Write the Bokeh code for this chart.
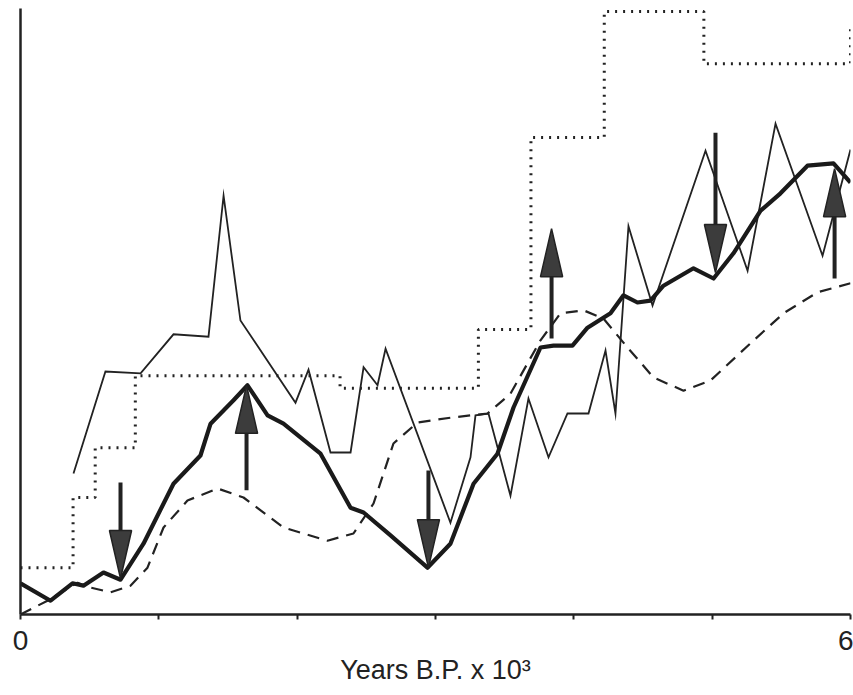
from bokeh.plotting import figure
from bokeh.models import Range1d, FixedTicker
from bokeh.embed import file_html
from bokeh.resources import INLINE

# ---------------- data (x: years B.P. x 10^3, y: arbitrary units) ----------------
step_x = [0.0, 0.38, 0.54, 0.83, 2.31, 3.31, 3.69, 4.22, 4.94, 6.0]
step_y = [7.8, 19.5, 27.8, 39.8, 37.7, 47.5, 79.5, 100.5, 91.8, 98.2]

thin_x = [0.383, 0.614, 0.868, 1.106, 1.359, 1.468, 1.590, 1.988, 2.082, 2.241,
          2.386, 2.480, 2.581, 2.639, 3.108, 3.253, 3.289, 3.383, 3.542, 3.672,
          3.817, 3.954, 4.106, 4.229, 4.301, 4.395, 4.569, 4.952, 5.256, 5.458,
          5.798, 6.0]
thin_y = [23.5, 40.5, 40.2, 46.7, 46.3, 69.8, 49.0, 35.3, 40.8, 27.0,
          27.0, 41.2, 38.2, 44.3, 15.3, 26.2, 33.2, 33.5, 19.8, 36.0,
          26.2, 33.5, 33.5, 44.0, 33.5, 64.7, 51.5, 77.3, 57.3, 81.8,
          59.8, 77.5]

thick_x = [0.0, 0.217, 0.376, 0.455, 0.600, 0.723, 0.889, 1.106, 1.301, 1.374,
           1.540, 1.641, 1.786, 1.901, 2.169, 2.386, 2.480, 2.675, 2.942, 3.108,
           3.275, 3.448, 3.564, 3.759, 3.853, 3.990, 4.099, 4.265, 4.359, 4.460,
           4.554, 4.648, 4.865, 5.010, 5.154, 5.350, 5.494, 5.689, 5.877, 6.0]
thick_y = [5.2, 2.3, 5.2, 4.8, 7.0, 5.8, 11.8, 21.8, 26.5, 31.8,
           35.7, 38.2, 33.2, 31.8, 26.8, 17.8, 17.0, 13.2, 7.8, 11.8,
           21.8, 26.8, 34.5, 44.5, 44.8, 44.8, 47.8, 50.2, 53.2, 52.0,
           52.3, 54.8, 57.7, 56.0, 60.2, 67.3, 70.2, 74.8, 75.2, 72.0]

dash_x = [0.0, 0.195, 0.412, 0.506, 0.651, 0.795, 0.918, 1.034, 1.207, 1.424,
          1.612, 1.901, 2.219, 2.407, 2.552, 2.696, 2.870, 3.108, 3.376, 3.542,
          3.759, 3.904, 4.070, 4.215, 4.388, 4.576, 4.793, 4.988, 5.277, 5.516,
          5.762, 6.0]
dash_y = [0.0, 2.3, 5.3, 4.5, 3.7, 4.8, 7.8, 14.5, 19.0, 21.0,
          19.5, 14.5, 12.3, 13.5, 18.5, 28.5, 32.0, 32.8, 33.5, 36.8,
          45.7, 50.2, 50.7, 49.3, 44.5, 39.5, 37.3, 39.0, 45.2, 50.2,
          53.7, 55.2]

# arrows: position, tail value, tip value
arrow_x = [0.723, 1.634, 2.949, 3.839, 5.024, 5.885]
arrow_tail = [22.0, 20.7, 24.0, 46.0, 80.3, 56.0]
arrow_tip = [6.0, 38.2, 7.8, 64.3, 57.0, 74.3]

tick_values = [0, 1, 2, 3, 4, 5, 6]
tick_labels = ["0", "", "", "", "", "", "6"]
x_title = "Years B.P. x 10\u00b3"

# ---------------- figure ----------------
INK = "#222222"
p = figure(width=853, height=695, x_range=Range1d(0, 6), y_range=Range1d(0, 101),
           output_backend="svg", toolbar_location=None,
           min_border_left=20, min_border_right=3, min_border_top=8, min_border_bottom=81)
p.background_fill_color = "white"
p.border_fill_color = "white"
p.outline_line_color = None
p.xgrid.grid_line_color = None
p.ygrid.grid_line_color = None

p.xaxis.ticker = FixedTicker(ticks=tick_values)
p.xaxis.major_label_overrides = {v: t for v, t in zip(tick_values, tick_labels)}
p.xaxis.minor_tick_line_color = None
p.xaxis.major_tick_in = 0
p.xaxis.major_tick_out = 5
p.xaxis.major_tick_line_width = 2
p.xaxis.major_tick_line_color = INK
p.xaxis.axis_line_width = 2.5
p.xaxis.axis_line_color = INK
p.xaxis.major_label_text_font = "Liberation Sans"
p.xaxis.major_label_text_font_size = "28px"
p.xaxis.major_label_text_color = INK
p.xaxis.major_label_standoff = 11
p.xaxis.axis_label = x_title
p.xaxis.axis_label_text_font = "Liberation Sans"
p.xaxis.axis_label_text_font_size = "27px"
p.xaxis.axis_label_text_font_style = "normal"
p.xaxis.axis_label_text_color = INK
p.xaxis.axis_label_standoff = 2

p.yaxis.ticker = FixedTicker(ticks=[])
p.yaxis.minor_tick_line_color = None
p.yaxis.major_tick_line_color = None
p.yaxis.major_label_text_font_size = "0px"
p.yaxis.axis_line_width = 2.5
p.yaxis.axis_line_color = INK

# series
p.step(step_x, step_y, mode="after", line_color=INK, line_width=3, line_dash="2 6")
p.line(dash_x, dash_y, line_color=INK, line_width=2.2, line_dash="12 8")
p.line(thin_x, thin_y, line_color=INK, line_width=1.8, line_join="miter")
p.line(thick_x, thick_y, line_color="#1a1a1a", line_width=4.2, line_join="round")

# arrows (shaft + filled head)
HEAD_LEN = 8.0     # in y units
HEAD_HALF_W = 0.08  # in x units
shaft_x0, shaft_y0, shaft_x1, shaft_y1 = [], [], [], []
head_xs, head_ys = [], []
for ax, t0, t1 in zip(arrow_x, arrow_tail, arrow_tip):
    d = 1.0 if t1 > t0 else -1.0
    base = t1 - d * HEAD_LEN
    shaft_x0.append(ax); shaft_y0.append(t0)
    shaft_x1.append(ax); shaft_y1.append(base)
    head_xs.append([ax - HEAD_HALF_W, ax + HEAD_HALF_W, ax])
    head_ys.append([base, base, t1])
p.segment(shaft_x0, shaft_y0, shaft_x1, shaft_y1, line_color=INK, line_width=4)
p.patches(head_xs, head_ys, fill_color="#3c3c3c", line_color=INK, line_width=1.5)

open("out.html", "w").write(file_html(p, INLINE))
